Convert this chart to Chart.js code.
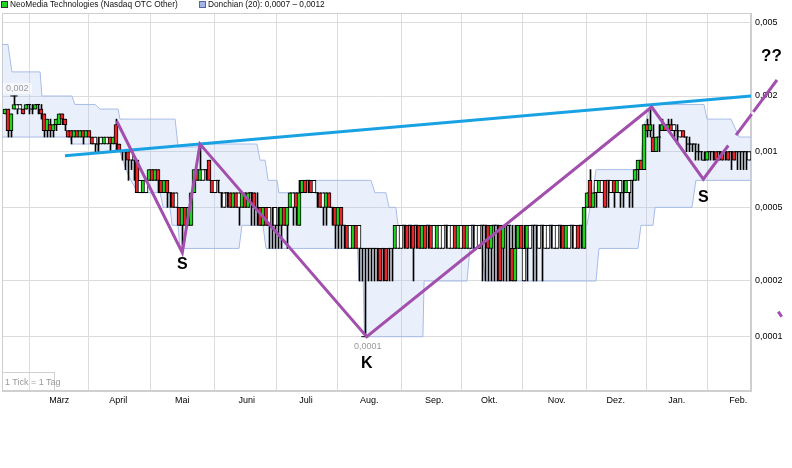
<!DOCTYPE html>
<html><head><meta charset="utf-8">
<script src="https://cdn.jsdelivr.net/npm/chart.js@4/dist/chart.umd.min.js"></script>
<style>
html,body{margin:0;padding:0;background:#fff;}
#wrap{position:relative;width:792px;height:468px;overflow:hidden;font-family:"Liberation Sans",Arial,sans-serif;}
canvas{position:absolute;left:0;top:0;}
.t{position:absolute;white-space:nowrap;line-height:1;}
.leg{position:absolute;white-space:nowrap;font-size:8.3px;color:#111;line-height:9px;top:0px;}
.leg i{display:inline-block;width:5px;height:5px;border:1px solid #333;vertical-align:top;margin:1px 2px 0 0;}
.big{font-weight:bold;font-size:16px;color:#000;line-height:16px;}
.grey{font-size:9px;color:#999;line-height:9px;}
</style></head><body>
<div id="wrap">
<canvas id="c" width="792" height="468"></canvas>
<div class="leg" style="left:1px"><i style="background:#22d422"></i>NeoMedia Technologies (Nasdaq OTC Other)</div>
<div class="leg" style="left:199px"><i style="background:#a3b5e6;border-color:#55679f"></i>Donchian (20): 0,0007 – 0,0012</div>
<div class="t grey" style="left:3px;top:83px;padding:1px 3px;background:rgba(255,255,255,0.55)">0,002</div>
<div class="t grey" style="left:354px;top:342px">0,0001</div>
<div class="t grey" style="left:2px;top:372px;width:53px;height:18px;border:1px solid #d0d0d0;border-left:none;border-bottom:none;box-sizing:border-box;padding:5px 0 0 3px;">1 Tick = 1 Tag</div>
<div class="t big" style="left:177px;top:256px">S</div>
<div class="t big" style="left:361px;top:355px">K</div>
<div class="t big" style="left:698px;top:189px">S</div>
<div class="t big" style="left:761px;top:48px;font-size:17px">??</div>
</div>
<script>
// daily prices in units of 0.0001
const openE4  = [16,17,13,17,17,17,17,17,18,17, 17,18,17,16,13,14,13,14,14,16, 15,12,13,12,13,12,13,12,13,12, 12,11,12,11,11,12,11,14,11,10,
                 10,10,10,9,9,7,6,6,7,8, 7,8,7,6,7,6,6,6,5,4, 5,4,4,6,8,7,7,8,9,7, 7,7,6,5,6,6,5,6,6,5, 6,5,6,6,5,5,4,5,5,4,
                 5,4,4,5,4,5,5,6,4,6, 7,7,7,7,6,6,6,5,6,5, 5,4,5,4,4,4,3,4,4,3, 3,3,3,3,3,3,3,3,3,3, 3,3,3,4,4,4,4,4,4,3,
                 4,4,4,4,3,3,3,4,3,3, 4,3,3,4,3,3,4,3,3,4, 4,4,3,4,4,4,3,4,4,3, 2,3,4,2,3,3,4,4,3,4, 3,3,4,3,3,4,4,3,3,4,
                 3,4,4,3,5,7,5,7,6,6, 7,7,6,7,6,6,6,6,6,7, 7,8,9,8,14,13,12,10,12,13, 14,13,14,14,13,12,13,12,11,11, 11,10,10,9,9,10,10,10,10,10,
                 10,10,10,10,10,10,10,10,9];
const highE4  = [17,17,16,20,18,18,17,18,18,18, 18,18,18,16,15,15,14,15,16,16, 15,13,13,13,13,13,13,13,13,12, 12,12,12,12,12,12,12,15,11,10,
                 10,10,10,9,9,7,7,7,8,8, 8,8,7,7,7,6,6,6,5,5, 5,5,6,8,8,11,8,8,9,7, 7,7,6,6,6,6,6,6,6,6, 6,6,6,6,6,5,5,5,5,5,
                 5,5,5,5,5,6,6,6,7,7, 7,7,7,7,6,6,6,6,6,5, 5,5,5,4,4,4,4,4,4,3, 3,3,3,3,3,3,3,3,3,3, 4,4,4,4,4,4,4,4,4,4,
                 4,4,4,4,4,4,4,4,4,4, 4,4,4,4,4,4,4,4,4,4, 4,4,4,4,4,4,4,4,4,4, 4,4,4,4,4,4,4,4,4,4, 4,4,4,4,4,4,4,4,4,4,
                 4,4,4,5,6,8,6,7,7,7, 7,7,7,7,7,7,7,7,7,7, 8,9,9,14,15,17,14,12,14,15, 14,15,15,14,14,13,13,12,12,11, 11,11,10,10,10,10,10,10,10,10,
                 10,10,10,10,10,10,10,10,10];
const lowE4   = [16,12,12,17,16,17,16,17,16,16, 17,16,15,12,12,12,12,13,14,14, 13,12,11,12,12,12,11,12,12,11, 10,10,11,11,11,10,11,10,10,9,
                 8,7,8,7,6,6,6,6,7,7, 7,6,6,6,5,5,5,5,4,3, 4,4,4,6,7,7,7,7,7,6, 6,6,5,5,5,5,5,5,4,5, 5,5,4,4,4,4,4,4,3,3,
                 3,3,3,4,3,5,4,4,4,6, 6,6,6,6,5,5,4,4,5,4, 3,3,3,3,3,3,3,3,2,2, 1,2,2,2,2,2,2,2,2,2, 3,3,3,3,3,3,2,3,3,3,
                 3,3,3,3,3,3,3,3,3,3, 3,3,3,3,3,3,3,3,3,2, 2,2,2,2,2,2,2,2,2,2, 2,3,3,2,2,3,2,2,3,2, 3,3,3,3,3,3,3,3,3,3,
                 3,3,3,3,5,5,5,5,6,6, 5,5,6,5,6,5,5,6,5,5, 7,7,8,8,12,12,10,10,10,13, 13,13,13,12,11,12,12,10,10,10, 9,9,9,9,9,9,9,9,9,9,
                 9,9,8,9,8,8,8,8,9];
const closeE4 = [17,13,16,18,18,18,16,18,18,17, 18,18,16,13,15,13,14,15,16,15, 14,13,12,13,12,13,12,13,12,11, 11,11,11,12,12,11,12,11,10,10,
                 10,9,9,9,6,6,7,7,8,7, 8,7,6,7,6,6,5,5,4,5, 4,5,6,8,7,8,8,8,7,6, 6,7,6,6,6,5,6,5,5,6, 5,6,6,5,5,4,5,4,4,4,
                 4,4,5,4,5,6,6,5,6,7, 6,7,6,6,6,5,5,6,5,5, 4,5,4,4,3,3,4,3,3,3, 3,3,3,3,3,2,3,2,3,3, 4,4,4,4,3,4,3,4,3,4,
                 3,4,3,3,4,4,4,4,4,4, 3,4,4,3,4,4,4,4,4,4, 4,3,4,4,4,2,4,4,4,2, 3,4,3,3,4,4,4,4,4,4, 4,4,4,4,4,4,3,4,4,4,
                 4,3,4,5,6,5,6,6,7,7, 5,7,7,6,7,7,6,7,7,7, 8,9,8,14,13,14,10,12,12,14, 13,14,13,13,13,13,12,12,11,11, 11,10,10,9,10,10,10,9,10,9,
                 10,9,10,9,10,10,10,10,10];

const monthLabels = ['März','April','Mai','Juni','Juli','Aug.','Sep.','Okt.','Nov.','Dez.','Jan.','Feb.'];
const monthDays   = [18.1,37.77,59.1,80.57,100.33,121.43,143.1,161.43,183.9,203.57,223.9,244.43];
const yTickValues = [0.0001,0.0002,0.0005,0.001,0.002,0.005];

// Donchian (20) band corners: [day, price in 0.0001]
const donchUpper = [[-1,38],[1,38],[2.3,27],[11.7,27],[12.3,20],[22.3,20],[23.3,18],[30,18],[31.7,17],[37.7,17],[38.3,15],[56.7,15],[57.7,10.6],[64,10.6],[64.7,11],[84,11],[85,9],[86.7,9],[87.7,7],[90.7,7],[91.3,6],[98.3,6],[99,7],[122,7],[123.3,6],[127,6],[128,5],[130.3,5],[131,4],[194,4],[195,5],[196,6],[197,8],[211,8],[212,9],[213,14],[214,15],[215,18],[233,18],[234,15],[242,15],[244.7,12],[248.67,12]];
const donchLower = [[-1,12],[21.7,12],[22.3,11],[30.7,11],[31,10],[38.3,10],[39.3,9],[40.3,8],[42,7],[44.3,6],[51.7,6],[52.7,5],[55,5],[55.7,4],[57.7,4],[58.3,3],[78,3],[79,4],[86,4],[87,3],[117.5,3],[118,2],[119.4,2],[119.8,1],[139.3,1],[139.7,2],[154,2],[155,3],[159,3],[160,2],[197,2],[198,3],[211,3],[212,4],[216,4],[216.7,5],[229,5],[230.3,7],[248.67,7]];

// hand-drawn trend lines: [day, price in 0.0001]
const trendCyan  = [[20,9.51],[248.67,20.0]];
const zigzag     = [[37.23,14.65],[59.1,2.845],[65,11.0],[120.57,1.0],[215.57,17.44],[232.77,7.1],[241.1,10.8]];
const zigDash1   = [[243.67,12.28],[248.9,15.98]];
const zigDash2   = [[249.43,16.41],[257.33,24.41]];
const strayDash  = [[257.77,1.365],[258.9,1.282]];

const U = 0.0001;
const GREEN = '#1fd41f', RED = '#e8262b', PURPLE = '#a24fae', CYAN = '#19a2e3';
const FONT = '"Liberation Sans", Arial, sans-serif';
const pts = a => a.map(([x, v]) => ({x, y: v * U}));

const n = closeE4.length;
const wickData = [], bodyData = [], dojiData = [];
for (let j = 0; j < n; j++) {
  wickData.push({x: j, y: [lowE4[j] * U, highE4[j] * U]});
  const o = openE4[j], c = closeE4[j];
  const prev = j > 0 ? closeE4[j - 1] : o;
  const col = c > prev ? GREEN : (c < prev ? RED : '#ffffff');
  if (o !== c) bodyData.push({x: j, y: [Math.min(o, c) * U, Math.max(o, c) * U], col});
  else dojiData.push({x: j, y: o * U});
}
let jMax = 0, jMin = 0;
for (let j = 0; j < n; j++) { if (highE4[j] > highE4[jMax]) jMax = j; if (lowE4[j] < lowE4[jMin]) jMin = j; }

const framePlugin = {
  id: 'frame',
  beforeDatasetsDraw(chart) {
    const a = chart.chartArea, ctx = chart.ctx;
    ctx.save(); ctx.strokeStyle = '#cfcfcf'; ctx.lineWidth = 1;
    ctx.strokeRect(Math.round(a.left) + 0.5, Math.round(a.top) + 0.5, Math.round(a.right - a.left) - 1, Math.round(a.bottom - a.top) - 1);
    ctx.restore();
  }
};

const lineDs = (data, color, width, order, extra) => Object.assign({
  type: 'line', data, borderColor: color, borderWidth: width, pointRadius: 0, fill: false,
  tension: 0, order, xAxisID: 'x', yAxisID: 'y'
}, extra || {});

new Chart(document.getElementById('c'), {
  type: 'bar',
  data: {
    datasets: [
      lineDs(pts(donchUpper), '#a7bbe6', 1, 20),
      lineDs(pts(donchLower), '#a7bbe6', 1, 19, {fill: '-1', backgroundColor: 'rgba(180,202,242,0.28)'}),
      {type: 'bar', data: wickData, xAxisID: 'xw', yAxisID: 'y', backgroundColor: '#000', borderWidth: 0,
       barThickness: 1, grouped: false, order: 6},
      {type: 'bar', data: bodyData, xAxisID: 'x', yAxisID: 'y', backgroundColor: c => (c.raw ? c.raw.col : '#fff'),
       borderColor: '#000', borderWidth: 1, borderSkipped: false, barThickness: 4, grouped: false, order: 5},
      {type: 'line', data: dojiData, xAxisID: 'x', yAxisID: 'y', showLine: false, pointStyle: 'line',
       pointRadius: 2, borderColor: '#000', borderWidth: 1, order: 4},
      lineDs([{x: jMax - 1.2, y: highE4[jMax] * U}, {x: jMax + 1.2, y: highE4[jMax] * U}], '#000', 1, 3),
      lineDs([{x: jMin - 1.2, y: lowE4[jMin] * U}, {x: jMin + 1.2, y: lowE4[jMin] * U}], '#000', 1, 3),
      lineDs(pts(trendCyan), CYAN, 3, 2),
      lineDs(pts(zigzag), PURPLE, 3, 1),
      lineDs(pts(zigDash1), PURPLE, 3, 1, {clip: false}),
      lineDs(pts(zigDash2), PURPLE, 3, 1, {clip: false}),
      lineDs(pts(strayDash), PURPLE, 3, 1, {clip: false})
    ]
  },
  options: {
    responsive: false, animation: false, devicePixelRatio: 1, events: [],
    layout: {padding: {left: 2, top: 13, right: 0, bottom: 0}, autoPadding: false},
    plugins: {legend: {display: false}, tooltip: {enabled: false}},
    scales: {
      x: {
        type: 'linear', position: 'bottom', offset: false, bounds: 'data',
        afterDataLimits: s => { s.min = -1; s.max = 248.6667; },
        afterBuildTicks: s => { s.ticks = monthDays.map(v => ({value: v})); },
        afterFit: s => { s.height = 77; s.paddingLeft = 0; s.paddingRight = 0; },
        grid: {color: '#dcdcdc', drawTicks: false},
        border: {color: '#cfcfcf'},
        ticks: {padding: 4, color: '#000', font: {family: FONT, size: 9}, autoSkip: false, maxRotation: 0,
                callback: (v, i) => monthLabels[i]}
      },
      xw: {
        type: 'linear', display: false, offset: false, bounds: 'data',
        afterDataLimits: s => { s.min = -1 - 1 / 6; s.max = 248.6667 - 1 / 6; }
      },
      y: {
        type: 'logarithmic', position: 'right', min: 5.086e-5, max: 0.00562,
        afterBuildTicks: s => { s.ticks = yTickValues.map(v => ({value: v})); },
        afterFit: s => { s.width = 41; s.paddingTop = 0; s.paddingBottom = 0; },
        grid: {color: '#dcdcdc', drawTicks: false},
        border: {color: '#cfcfcf'},
        ticks: {padding: 4, color: '#000', font: {family: FONT, size: 9},
                callback: v => String(v).replace('.', ',')}
      }
    }
  },
  plugins: [framePlugin]
});
</script>
</body></html>
